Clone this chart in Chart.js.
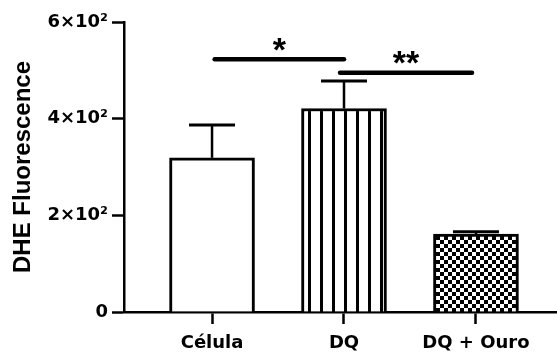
<!DOCTYPE html>
<html>
<head>
<meta charset="utf-8">
<script src="https://cdn.jsdelivr.net/npm/chart.js@4.4.1/dist/chart.umd.min.js"></script>
<style>
html,body{margin:0;padding:0;background:#fff;}
#wrap{width:557px;height:353px;}
</style>
</head>
<body>
<div id="wrap"><canvas id="c" width="557" height="353"></canvas></div>
<script>
// ---- data ----
const categories = ['Célula', 'DQ', 'DQ + Ouro'];
const xPos = [0, 1, 2];
const means = [319, 421, 161];
const errors = [68, 57, 5];
const yTicks = [0, 200, 400, 600];
const yTickLabels = ['0', '2×10²', '4×10²', '6×10²'];
const sigFrom = [0.02, 0.97];
const sigTo = [1.0, 1.97];
const sigY = [523, 495];
const sigLabels = ['*', '**'];

// ---- patterns ----
function makeStripes() {
  const c = document.createElement('canvas');
  c.width = 12; c.height = 12;
  const g = c.getContext('2d');
  g.fillStyle = '#fff'; g.fillRect(0, 0, 12, 12);
  g.fillStyle = '#000'; g.fillRect(8, 0, 3, 12);
  return g.createPattern(c, 'repeat');
}
function makeChecker() {
  const c = document.createElement('canvas');
  c.width = 8; c.height = 8;
  const g = c.getContext('2d');
  g.fillStyle = '#fff'; g.fillRect(0, 0, 8, 8);
  g.fillStyle = '#000';
  g.fillRect(0, 0, 4, 4); g.fillRect(4, 4, 4, 4);
  return g.createPattern(c, 'repeat');
}
const fills = ['#ffffff', makeStripes(), makeChecker()];

const FONT = "'DejaVu Sans', sans-serif";

const overlay = {
  id: 'overlay',
  afterDatasetsDraw(chart) {
    const ctx = chart.ctx;
    const xs = chart.scales.x, ys = chart.scales.y;
    ctx.save();
    ctx.strokeStyle = '#000';
    ctx.fillStyle = '#000';
    // error bars (upper only)
    for (let i = 0; i < means.length; i++) {
      const px = xs.getPixelForValue(xPos[i]);
      const y0 = ys.getPixelForValue(means[i]);
      const y1 = ys.getPixelForValue(means[i] + errors[i]);
      ctx.lineWidth = 2.5;
      ctx.beginPath(); ctx.moveTo(px, y0); ctx.lineTo(px, y1); ctx.stroke();
      ctx.lineWidth = 3;
      ctx.beginPath(); ctx.moveTo(px - 23, y1); ctx.lineTo(px + 23, y1); ctx.stroke();
    }
    // significance lines
    ctx.lineCap = 'round';
    ctx.lineWidth = 4.5;
    ctx.font = "bold 34px 'Liberation Sans', Arial, sans-serif";
    ctx.textAlign = 'center';
    ctx.textBaseline = 'alphabetic';
    for (let i = 0; i < sigY.length; i++) {
      const xa = xs.getPixelForValue(sigFrom[i]);
      const xb = xs.getPixelForValue(sigTo[i]);
      const yy = ys.getPixelForValue(sigY[i]);
      ctx.beginPath(); ctx.moveTo(xa, yy); ctx.lineTo(xb, yy); ctx.stroke();
      const m = ctx.measureText(sigLabels[i]);
      const yc = yy - 15;
      const base = yc + (m.actualBoundingBoxAscent - m.actualBoundingBoxDescent) / 2;
      ctx.fillText(sigLabels[i], (xa + xb) / 2, base);
    }
    ctx.restore();
  }
};

new Chart(document.getElementById('c'), {
  type: 'bar',
  data: {
    datasets: [{
      data: xPos.map((x, i) => ({ x: x, y: means[i] })),
      backgroundColor: fills,
      borderColor: '#000',
      borderWidth: 3,
      barThickness: 85
    }]
  },
  options: {
    responsive: false,
    devicePixelRatio: 1,
    animation: false,
    layout: { padding: { top: 22, right: 0, bottom: 0, left: 0 } },
    plugins: { legend: { display: false }, tooltip: { enabled: false } },
    scales: {
      x: {
        type: 'linear',
        offset: false,
        min: -0.667,
        max: 2.614,
        afterBuildTicks: s => { s.ticks = xPos.map(v => ({ value: v })); },
        afterFit: s => { s.height = 41; },
        ticks: {
          callback: (v) => categories[xPos.indexOf(v)],
          font: { family: FONT, weight: 'bold', size: 18 },
          color: '#000',
          padding: 9,
          maxRotation: 0,
          autoSkip: false
        },
        grid: { display: true, offset: false, drawOnChartArea: false, drawTicks: true, tickLength: 12, tickWidth: 2.5, tickColor: '#000' },
        border: { display: true, color: '#000', width: 2.5 }
      },
      y: {
        min: 0,
        max: 600,
        afterBuildTicks: s => { s.ticks = yTicks.map(v => ({ value: v })); },
        afterFit: s => { s.width = 124; },
        ticks: {
          callback: (v) => yTickLabels[yTicks.indexOf(v)],
          font: { family: FONT, weight: 'bold', size: 18 },
          color: '#000',
          padding: 4
        },
        grid: { display: true, drawOnChartArea: false, drawTicks: true, tickLength: 12, tickWidth: 2.5, tickColor: '#000' },
        border: { display: true, color: '#000', width: 2.5 },
        title: {
          display: true,
          text: 'DHE Fluorescence',
          color: '#000',
          font: { family: "'Liberation Sans', Arial, sans-serif", weight: 'bold', size: 24 },
          padding: { top: 9, bottom: 0 }
        }
      }
    }
  },
  plugins: [overlay]
});
</script>
</body>
</html>
